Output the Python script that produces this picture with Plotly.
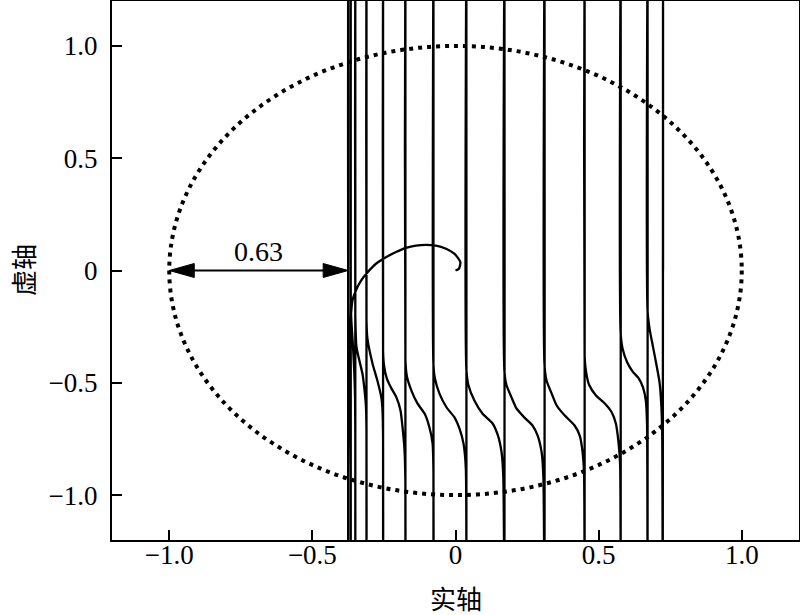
import plotly.graph_objects as go

# ---- data ----
# inner spiral of the Nyquist curve (origin -> left side)
spiral_re = [0.0, 0.012, 0.017, -0.003, -0.033, -0.068, -0.103, -0.138, -0.173, -0.208,
             -0.243, -0.278, -0.307, -0.330, -0.348, -0.360, -0.365, -0.369, -0.369,
             -0.371, -0.373, -0.375, -0.375]
spiral_im = [0.0, 0.008, 0.037, 0.074, 0.097, 0.111, 0.114, 0.111, 0.101, 0.082,
             0.059, 0.030, -0.008, -0.045, -0.089, -0.134, -0.193, -0.252, -0.312,
             -0.42, -0.60, -0.90, -1.5]

# branches between successive vertical asymptotes (each starts at +inf, ends at -inf)
branches_re = [
    [-0.375, -0.375, -0.373, -0.370, -0.367, -0.366, -0.366],
    [-0.366, -0.366, -0.364, -0.359, -0.354, -0.351, -0.350, -0.350],
    [-0.350, -0.350, -0.346, -0.336, -0.325, -0.318, -0.313, -0.311, -0.311],
    [-0.311, -0.311, -0.308, -0.290, -0.273, -0.259, -0.255, -0.253, -0.253],
    [-0.253, -0.253, -0.250, -0.240, -0.226, -0.206, -0.192, -0.185, -0.178, -0.175, -0.175],
    [-0.175, -0.175, -0.170, -0.154, -0.133, -0.108, -0.091, -0.080, -0.077, -0.077],
    [-0.077, -0.077, -0.072, -0.056, -0.031, -0.003, 0.014, 0.028, 0.036, 0.038],
    [0.038, 0.038, 0.045, 0.066, 0.094, 0.129, 0.147, 0.161, 0.167, 0.171],
    [0.171, 0.171, 0.178, 0.196, 0.213, 0.241, 0.269, 0.287, 0.301, 0.307, 0.311],
    [0.311, 0.311, 0.318, 0.336, 0.353, 0.381, 0.416, 0.434, 0.444, 0.449, 0.451],
    [0.451, 0.451, 0.456, 0.467, 0.490, 0.520, 0.545, 0.560, 0.569, 0.575, 0.577],
    [0.577, 0.577, 0.584, 0.600, 0.619, 0.640, 0.655, 0.665, 0.669, 0.671],
    [0.671, 0.671, 0.678, 0.690, 0.702, 0.713, 0.719, 0.722, 0.724],
    [0.725, 0.725],
]
branches_im = [
    [1.5, -0.15, -0.30, -0.42, -0.55, -0.80, -1.5],
    [1.5, -0.12, -0.22, -0.32, -0.44, -0.56, -0.75, -1.5],
    [1.5, -0.20, -0.34, -0.40, -0.46, -0.53, -0.60, -0.72, -1.5],
    [1.5, -0.22, -0.30, -0.414, -0.49, -0.566, -0.624, -0.75, -1.5],
    [1.5, -0.36, -0.42, -0.48, -0.52, -0.566, -0.624, -0.699, -0.802, -0.95, -1.5],
    [1.5, -0.40, -0.47, -0.535, -0.592, -0.637, -0.699, -0.771, -0.90, -1.5],
    [1.5, -0.42, -0.48, -0.548, -0.610, -0.655, -0.704, -0.771, -0.88, -1.5],
    [1.5, -0.44, -0.51, -0.579, -0.637, -0.680, -0.730, -0.810, -0.92, -1.5],
    [1.5, -0.45, -0.51, -0.566, -0.614, -0.655, -0.690, -0.735, -0.810, -0.92, -1.5],
    [1.5, -0.42, -0.49, -0.548, -0.600, -0.645, -0.690, -0.735, -0.810, -0.90, -1.5],
    [1.5, -0.38, -0.45, -0.51, -0.555, -0.59, -0.63, -0.68, -0.76, -0.86, -1.5],
    [1.5, -0.28, -0.35, -0.41, -0.45, -0.48, -0.52, -0.58, -0.68, -1.5],
    [1.5, -0.18, -0.26, -0.34, -0.42, -0.50, -0.60, -0.72, -1.5],
    [1.5, 0.0],
]

unit_radius = 1.0
margin_left = -1.0          # point (-1, 0)
margin_right = -0.375       # leftmost crossing of the curve
margin_label = "0.63"

tick_vals = [-1.0, -0.5, 0.0, 0.5, 1.0]
tick_text = ["\u22121.0", "\u22120.5", "0", "0.5", "1.0"]
x_title = "实轴"
y_title = "虚轴"

# ---- build figure ----
curve_re = list(spiral_re)
curve_im = list(spiral_im)
for bre, bim in zip(branches_re, branches_im):
    curve_re += bre
    curve_im += bim

W, H = 800, 615
ml, mr, mt, mb = 112, 1, 1, 75
xr = [-1.2, 1.2]
yr = [-1.2, 1.2]
px_x = (W - ml - mr) / (xr[1] - xr[0])
px_y = (H - mt - mb) / (yr[1] - yr[0])

fig = go.Figure()
fig.add_trace(go.Scatter(
    x=curve_re, y=curve_im, mode="lines",
    line=dict(color="black", width=2.3, shape="spline", smoothing=0.6),
    hoverinfo="skip", showlegend=False,
))

# dotted unit circle
fig.add_shape(type="circle", xref="x", yref="y",
              x0=-unit_radius, y0=-unit_radius, x1=unit_radius, y1=unit_radius,
              line=dict(color="black", width=4, dash="4px,5px"))

# double arrow showing the stability margin
head_len = 25 / px_x
head_half = 7 / px_y
fig.add_shape(type="line", xref="x", yref="y",
              x0=margin_left + head_len * 0.5, y0=0, x1=margin_right - head_len * 0.5, y1=0,
              line=dict(color="black", width=2))
for tip, sgn in [(margin_left, 1), (margin_right, -1)]:
    base = tip + sgn * head_len
    fig.add_shape(type="path", xref="x", yref="y",
                  path=f"M {tip},0 L {base},{head_half} L {base},{-head_half} Z",
                  fillcolor="black", line=dict(color="black", width=1))
serif = "Liberation Serif, Times New Roman, serif"
fig.add_annotation(x=(margin_left + margin_right) / 2, y=0, xref="x", yref="y",
                   text=margin_label, showarrow=False, yanchor="bottom", yshift=2,
                   font=dict(family=serif, size=28, color="black"))

tick_font = dict(family=serif, size=27, color="black")
title_font = dict(family="Noto Sans CJK SC, sans-serif", size=26, color="black")

# axis titles placed as paper annotations (pixel positions converted below)
fig.add_annotation(x=456, y=H - 597, xref="paper", yref="paper", text=x_title,
                   showarrow=False, font=title_font, xanchor="center", yanchor="middle")
fig.add_annotation(x=22, y=H - 270, xref="paper", yref="paper", text=y_title,
                   showarrow=False, font=title_font, textangle=-90,
                   xanchor="center", yanchor="middle")

fig.update_xaxes(range=xr, tickvals=tick_vals, ticktext=tick_text, ticks="inside",
                 ticklen=10, tickwidth=1.5, tickcolor="black", ticklabelstandoff=-10,
                 showline=True, linewidth=2, linecolor="black", mirror=True,
                 showgrid=False, zeroline=False, tickfont=tick_font, automargin=False)
fig.update_yaxes(range=yr, tickvals=tick_vals, ticktext=tick_text, ticks="inside",
                 ticklen=10, tickwidth=1.5, tickcolor="black", ticklabelstandoff=7,
                 showline=True, linewidth=2, linecolor="black", mirror=True,
                 showgrid=False, zeroline=False, tickfont=tick_font, automargin=False)

fig.update_layout(width=W, height=H, margin=dict(l=ml, r=mr, t=mt, b=mb),
                  plot_bgcolor="white", paper_bgcolor="white", showlegend=False)

pw, ph = W - ml - mr, H - mt - mb
for ann in fig.layout.annotations:
    if ann.xref == "paper":
        ann.x = (ann.x - ml) / pw
        ann.y = (ann.y - mb) / ph

fig.write_html("out.html", config={"displayModeBar": False},
               post_script="document.body.style.margin='0';document.body.style.overflow='hidden';")
